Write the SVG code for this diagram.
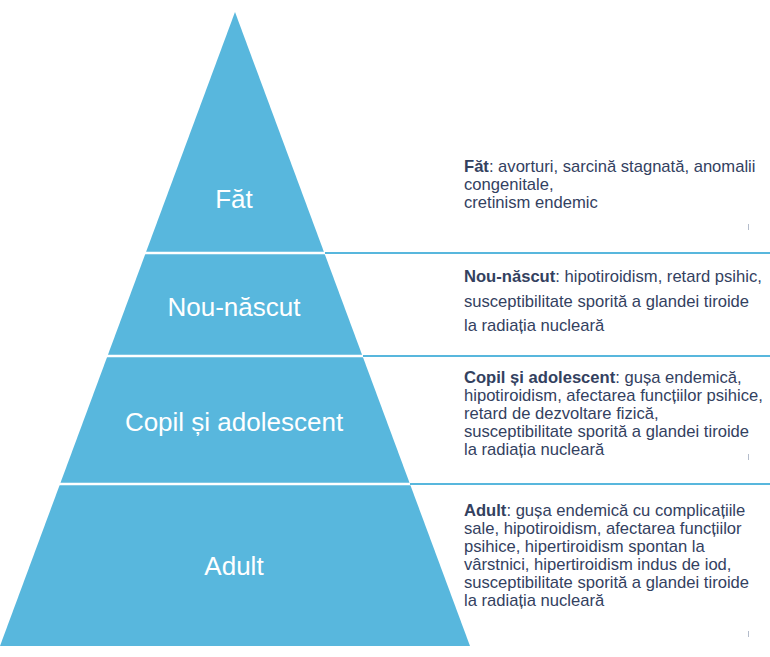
<svg xmlns="http://www.w3.org/2000/svg" width="770" height="657" viewBox="0 0 770 657">
<style>
.lvl{fill:#58b7dd}
.sep{stroke:#ffffff;stroke-width:2.5}
.rule{stroke:#58b7dd;stroke-width:2.2}
.lbl{font-family:"Liberation Sans",Arial,sans-serif;font-size:26px;fill:#ffffff;text-anchor:middle}
.desc{font-family:"Liberation Sans",Arial,sans-serif;font-size:16.6px;fill:#33415f}
.desc tspan.b{font-weight:bold}
.tick{stroke:#b4bccb;stroke-width:1}
</style>
<rect width="770" height="657" fill="#ffffff"/>
<g id="pyramid">
<polygon class="lvl" points="235,12 470,646 0,646"/>
</g>
<g id="connectors">
<line class="sep" x1="0" y1="253" x2="330" y2="253"/>
<line class="sep" x1="0" y1="356" x2="368" y2="356"/>
<line class="sep" x1="0" y1="484" x2="415" y2="484"/>
<line class="rule" x1="325" y1="253" x2="770" y2="253"/>
<line class="rule" x1="363" y1="356" x2="770" y2="356"/>
<line class="rule" x1="410" y1="484" x2="770" y2="484"/>
<line class="tick" x1="748.5" y1="224" x2="748.5" y2="230"/>
<line class="tick" x1="748.5" y1="454" x2="748.5" y2="460"/>
<line class="tick" x1="748.5" y1="631" x2="748.5" y2="637"/>
</g>
<g id="fat">
<text class="lbl" x="234" y="208">Făt</text>
<text class="desc"><tspan x="464" y="171.5"><tspan class="b">Făt</tspan>: avorturi, sarcină stagnată, anomalii</tspan><tspan x="464" y="189.8">congenitale,</tspan><tspan x="464" y="208">cretinism endemic</tspan></text>
</g>
<g id="nou-nascut">
<text class="lbl" x="234" y="316">Nou-născut</text>
<text class="desc"><tspan x="464" y="282"><tspan class="b">Nou-născut</tspan>: hipotiroidism, retard psihic,</tspan><tspan x="464" y="307">susceptibilitate sporită a glandei tiroide</tspan><tspan x="464" y="331">la radiația nucleară</tspan></text>
</g>
<g id="copil">
<text class="lbl" x="234" y="431">Copil și adolescent</text>
<text class="desc"><tspan x="464" y="383"><tspan class="b">Copil și adolescent</tspan>: gușa endemică,</tspan><tspan x="464" y="401">hipotiroidism, afectarea funcțiilor psihice,</tspan><tspan x="464" y="419">retard de dezvoltare fizică,</tspan><tspan x="464" y="437">susceptibilitate sporită a glandei tiroide</tspan><tspan x="464" y="455">la radiația nucleară</tspan></text>
</g>
<g id="adult">
<text class="lbl" x="234" y="575">Adult</text>
<text class="desc"><tspan x="464" y="515.5"><tspan class="b">Adult</tspan>: gușa endemică cu complicațiile</tspan><tspan x="464" y="533.5">sale, hipotiroidism, afectarea funcțiilor</tspan><tspan x="464" y="551.5">psihice, hipertiroidism spontan la</tspan><tspan x="464" y="569.5">vârstnici, hipertiroidism indus de iod,</tspan><tspan x="464" y="587.5">susceptibilitate sporită a glandei tiroide</tspan><tspan x="464" y="605.5">la radiația nucleară</tspan></text>
</g>
</svg>
